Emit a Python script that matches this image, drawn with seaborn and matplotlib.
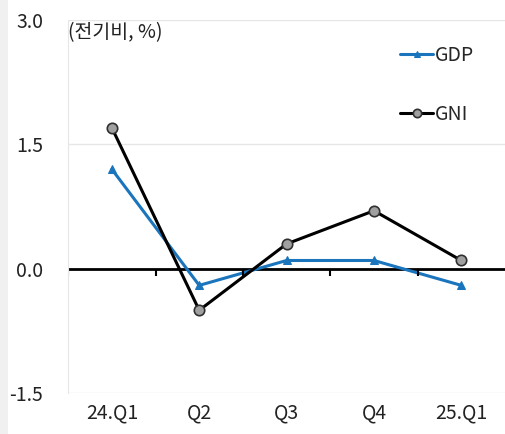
import pandas as pd
import matplotlib.pyplot as plt
from matplotlib.patches import Rectangle
import seaborn as sns

# 분기별 성장률 (전기비, %)
quarters = ["24.Q1", "Q2", "Q3", "Q4", "25.Q1"]
gdp = [1.2, -0.2, 0.1, 0.1, -0.2]
gni = [1.7, -0.5, 0.3, 0.7, 0.1]
y_ticks = [-1.5, 0.0, 1.5, 3.0]

sns.set_style("white")
plt.rcParams['font.family'] = ['Noto Sans CJK KR', 'DejaVu Sans']

df = pd.DataFrame({
    "quarter": quarters * 2,
    "pos": list(range(len(quarters))) * 2,
    "value": gdp + gni,
    "series": ["GDP"] * len(gdp) + ["GNI"] * len(gni),
})

fig = plt.figure(figsize=(5.05, 4.34), dpi=100, facecolor="w")
# 왼쪽 회색 테두리
fig.patches.append(Rectangle((0, 0), 0.015, 1, transform=fig.transFigure,
                             facecolor="#f0f0f0", edgecolor="none"))
ax = fig.add_axes([0.135, 0.094, 0.865, 0.86])

sns.lineplot(data=df[df.series == "GDP"], x="pos", y="value", ax=ax,
             color="#1a75bc", lw=2.2, marker="^", markersize=6,
             markerfacecolor="#1a75bc", markeredgecolor="#1a75bc", label="GDP")
sns.lineplot(data=df[df.series == "GNI"], x="pos", y="value", ax=ax,
             color="black", lw=2.2, marker="o", markersize=7.5,
             markerfacecolor="#a0a0a0", markeredgecolor="#303030",
             markeredgewidth=1.2, label="GNI")

# 0선과 구분 눈금
ax.axhline(0, color="black", lw=2, zorder=1)
ax.vlines([p - 0.5 for p in range(len(quarters))], -0.09, 0, color="black", lw=1.5)

ax.set_xlim(-0.5, len(quarters) - 0.5)
ax.set_ylim(-1.5, 3.0)
ax.set_yticks(y_ticks)
ax.set_yticklabels([f"{v:.1f}" for v in y_ticks])
ax.set_xticks(range(len(quarters)))
ax.set_xticklabels(quarters)
ax.tick_params(axis="both", length=0, labelsize=14, colors="#222222")
ax.tick_params(axis="y", pad=18)
ax.tick_params(axis="x", pad=7)
ax.set_xlabel("")
ax.set_ylabel("")

ax.grid(axis="y", color="#e6e6e6", lw=1)
for s in ["top", "right", "bottom"]:
    ax.spines[s].set_visible(False)
ax.spines["left"].set_color("#e6e6e6")

ax.text(0.0, 0.995, "(전기비, %)", transform=ax.transAxes, fontsize=14,
        ha="left", va="top", color="#222222")

ax.legend(loc="upper right", bbox_to_anchor=(0.97, 0.98), frameon=False,
          fontsize=14, handlelength=1.7, handletextpad=0.1, labelspacing=1.95,
          markerscale=0.8)

plt.savefig("out.png", dpi=100)
